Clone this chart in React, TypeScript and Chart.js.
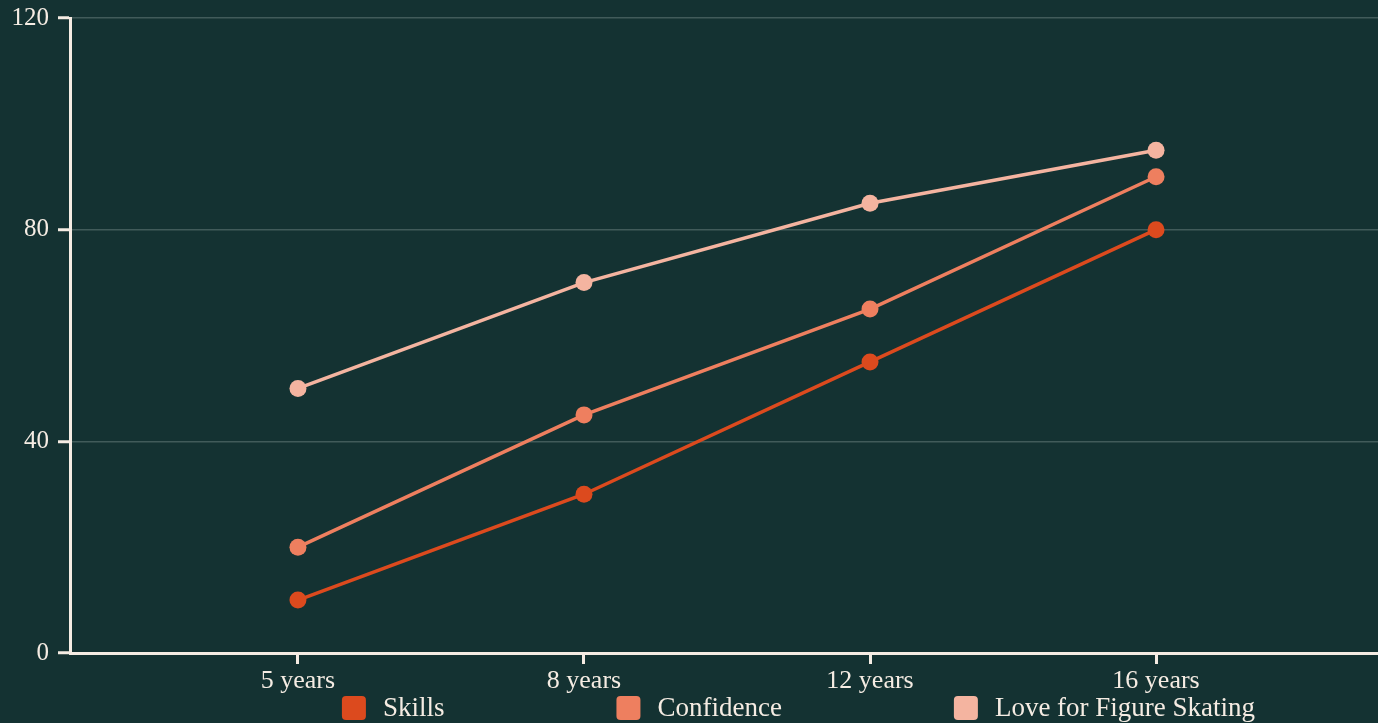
import React, { useEffect, useRef } from "react";
import { Chart, registerables } from "chart.js";

Chart.register(...registerables);

const categories = ["5 years", "8 years", "12 years", "16 years"];
const seriesNames = ["Skills", "Confidence", "Love for Figure Skating"];
const skills = [10, 30, 55, 80];
const confidence = [20, 45, 65, 90];
const love = [50, 70, 85, 95];
const seriesColors = ["#dc4a1e", "#ee7f5f", "#f4b4a0"];
const yMin = 0;
const yMax = 120;
const yStep = 40;

const BG = "#143232";
const CREAM = "#f5ece3";
const FONT = "'Liberation Serif', 'DejaVu Serif', serif";
const W = 1378;
const H = 723;

// stretch the plot area to the right edge of the canvas
const fullWidthPlugin = {
  id: "fullWidth",
  afterLayout(chart: any) {
    const ca = chart.chartArea;
    ca.right = chart.width;
    ca.width = ca.right - ca.left;
    const xs = chart.scales.x;
    xs.right = chart.width;
    xs.width = xs.right - xs.left;
    xs.configure();
  },
};

const legendPlugin = {
  id: "bottomLegend",
  afterDraw(chart: any) {
    const ctx = chart.ctx as CanvasRenderingContext2D;
    const items = chart.data.datasets.map((d: any) => ({ text: d.label, color: d.borderColor }));
    ctx.save();
    ctx.font = `27px ${FONT}`;
    const box = 24;
    const textGap = 17;
    const itemGap = 172;
    const widths = items.map((it: any) => box + textGap + ctx.measureText(it.text).width);
    const total = widths.reduce((a: number, b: number) => a + b, 0) + itemGap * (items.length - 1);
    let x = 798.5 - total / 2;
    const cy = 708;
    items.forEach((it: any, i: number) => {
      ctx.fillStyle = it.color;
      ctx.beginPath();
      (ctx as any).roundRect(x, cy - 12, box, box, 4);
      ctx.fill();
      ctx.fillStyle = CREAM;
      ctx.textBaseline = "middle";
      ctx.textAlign = "left";
      ctx.fillText(it.text, x + box + textGap, cy + 1);
      x += widths[i] + itemGap;
    });
    ctx.restore();
  },
};

export default function App() {
  const canvasRef = useRef<HTMLCanvasElement | null>(null);

  useEffect(() => {
    document.body.style.margin = "0";
    document.body.style.background = BG;
    document.body.style.overflow = "hidden";
    const canvas = canvasRef.current;
    if (!canvas) return;
    const values = [skills, confidence, love];
    const chart = new Chart(canvas, {
      type: "line",
      data: {
        datasets: values.map((vals, s) => ({
          label: seriesNames[s],
          data: vals.map((y, i) => ({ x: i, y })),
          borderColor: seriesColors[s],
          backgroundColor: seriesColors[s],
          pointBackgroundColor: seriesColors[s],
          pointBorderWidth: 0,
          pointRadius: 8.5,
          borderWidth: 3.5,
          tension: 0,
          fill: false,
        })),
      },
      options: {
        animation: false,
        responsive: false,
        devicePixelRatio: 1,
        layout: { padding: { top: 18, left: 12, right: 0, bottom: 25 } },
        plugins: {
          legend: { display: false },
          tooltip: { enabled: false },
        },
        scales: {
          x: {
            type: "linear",
            min: -0.797,
            max: 3.776,
            afterBuildTicks: (s: any) => {
              s.ticks = categories.map((_, i) => ({ value: i }));
            },
            afterFit: (s: any) => {
              s.height = 45;
              s.paddingLeft = 0;
              s.paddingRight = 0;
            },
            ticks: {
              autoSkip: false,
              maxRotation: 0,
              padding: 2,
              color: CREAM,
              font: { family: FONT, size: 26 },
              callback: (v: any) => categories[v as number] ?? "",
            },
            grid: {
              drawOnChartArea: false,
              color: CREAM,
              tickColor: CREAM,
              tickLength: 11,
              tickWidth: 3,
            },
            border: { color: CREAM, width: 3 },
          },
          y: {
            min: yMin,
            max: yMax,
            afterFit: (s: any) => {
              s.width = 58;
              s.paddingTop = 0;
              s.paddingBottom = 0;
            },
            ticks: {
              stepSize: yStep,
              padding: 9,
              color: CREAM,
              font: { family: FONT, size: 25 },
            },
            grid: {
              color: "rgba(200,215,210,0.25)",
              lineWidth: 1.5,
              tickColor: CREAM,
              tickLength: 12,
              tickWidth: 3,
            },
            border: { color: CREAM, width: 3 },
          },
        },
      },
      plugins: [fullWidthPlugin, legendPlugin],
    });
    return () => chart.destroy();
  }, []);

  return (
    <div style={{ width: W, height: H, background: BG, position: "relative", overflow: "hidden" }}>
      <canvas ref={canvasRef} width={W} height={H} style={{ display: "block", width: W, height: H }} />
    </div>
  );
}
